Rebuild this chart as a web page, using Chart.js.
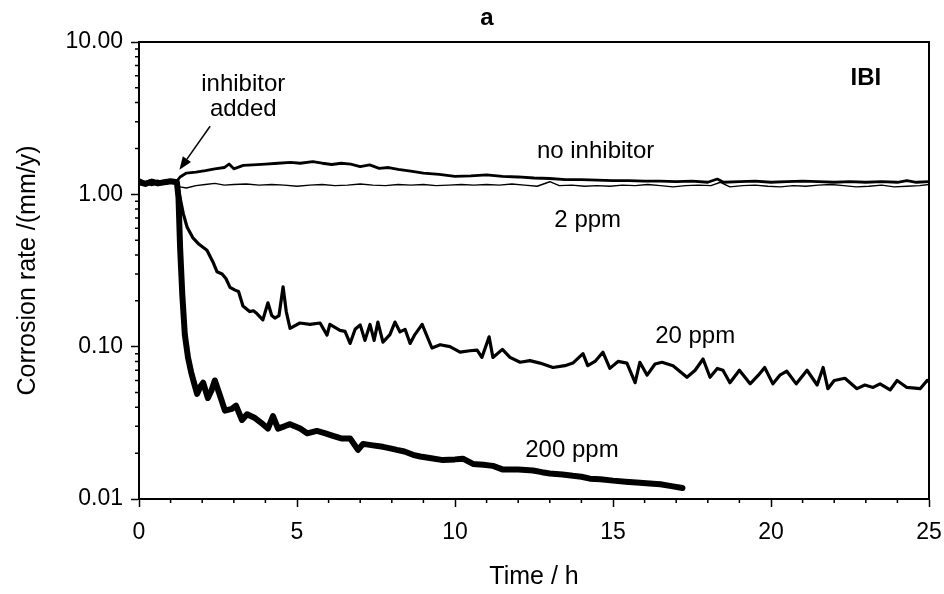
<!DOCTYPE html>
<html>
<head>
<meta charset="utf-8">
<script src="https://cdn.jsdelivr.net/npm/chart.js@4.4.1/dist/chart.umd.min.js"></script>
<style>
html,body{margin:0;padding:0;background:#fff;}
canvas{display:block;}
</style>
</head>
<body>
<canvas id="c" width="944" height="594"></canvas>
<script>
// ---------------- data ----------------
const xMajorTicks = [0, 5, 10, 15, 20, 25];
const yMajorTicks = [0.01, 0.1, 1, 10];

const noInhTime = [0,0.2,0.4,0.6,0.8,1.0,1.2,1.3,1.5,1.8,2.1,2.4,2.7,2.85,3.0,3.3,3.6,4.0,4.4,4.8,5.1,5.5,5.8,6.1,6.4,6.7,7.0,7.3,7.6,7.9,8.2,8.6,9.0,9.5,10,10.5,11,11.5,12,12.5,13,13.5,14,14.5,15,15.5,16,16.5,17,17.5,18,18.3,18.5,19,19.5,20,20.5,21,21.5,22,22.5,23,23.5,24,24.3,24.6,25];
const noInhRate = [1.22,1.2,1.24,1.2,1.22,1.21,1.22,1.3,1.38,1.4,1.43,1.47,1.5,1.58,1.47,1.55,1.56,1.58,1.6,1.62,1.6,1.64,1.6,1.57,1.6,1.58,1.52,1.56,1.48,1.5,1.46,1.42,1.38,1.35,1.31,1.32,1.34,1.31,1.3,1.28,1.27,1.25,1.25,1.24,1.23,1.23,1.22,1.22,1.21,1.22,1.2,1.26,1.2,1.21,1.22,1.2,1.21,1.22,1.21,1.2,1.21,1.2,1.21,1.2,1.23,1.2,1.21];

const ppm2Time = [0,0.2,0.4,0.6,0.8,1.0,1.2,1.3,1.5,1.8,2.1,2.4,2.7,3.0,3.4,3.8,4.2,4.6,5.0,5.4,5.8,6.2,6.6,7.0,7.4,7.8,8.2,8.6,9.0,9.4,9.8,10.2,10.6,11,11.4,11.8,12.2,12.6,13.0,13.3,13.7,14.1,14.5,14.9,15.3,15.7,16.1,16.5,16.9,17.3,17.7,18.1,18.4,18.7,19.1,19.5,19.9,20.3,20.7,21.1,21.5,21.9,22.3,22.7,23.1,23.5,23.9,24.3,24.7,25];
const ppm2Rate = [1.15,1.18,1.14,1.17,1.19,1.18,1.2,1.12,1.1,1.14,1.16,1.18,1.15,1.16,1.17,1.15,1.16,1.15,1.13,1.15,1.16,1.14,1.15,1.17,1.15,1.14,1.16,1.15,1.16,1.14,1.15,1.16,1.15,1.16,1.15,1.17,1.15,1.13,1.21,1.14,1.15,1.13,1.14,1.13,1.15,1.14,1.16,1.14,1.12,1.14,1.15,1.14,1.2,1.12,1.14,1.15,1.13,1.12,1.14,1.13,1.15,1.16,1.14,1.12,1.13,1.15,1.12,1.13,1.14,1.16];

const ppm20Time = [0,0.2,0.4,0.6,0.8,1.0,1.2,1.3,1.4,1.52,1.7,1.9,2.15,2.34,2.47,2.63,2.75,2.88,3.04,3.15,3.29,3.5,3.62,3.73,3.92,4.08,4.2,4.3,4.43,4.56,4.66,4.78,5.09,5.41,5.73,5.95,6.04,6.36,6.52,6.68,6.84,7.0,7.15,7.31,7.44,7.56,7.72,7.94,8.1,8.26,8.42,8.58,8.73,8.96,9.27,9.53,9.84,10.16,10.47,10.7,10.85,11.08,11.2,11.5,11.74,12.06,12.37,12.69,13.1,13.48,13.73,14.05,14.2,14.43,14.68,14.9,15.16,15.44,15.7,15.85,16.08,16.33,16.55,16.9,17.34,17.6,17.85,18.07,18.3,18.48,18.7,19.0,19.34,19.6,19.8,20.06,20.28,20.5,20.8,21.14,21.46,21.65,21.8,22.0,22.34,22.72,22.97,23.23,23.45,23.77,23.99,24.3,24.72,24.94,25];
const ppm20Rate = [1.25,1.19,1.2,1.22,1.18,1.2,1.21,0.95,0.75,0.61,0.52,0.47,0.43,0.36,0.31,0.3,0.28,0.245,0.235,0.23,0.185,0.17,0.172,0.165,0.15,0.194,0.16,0.154,0.16,0.247,0.17,0.132,0.143,0.14,0.143,0.119,0.14,0.128,0.126,0.105,0.13,0.139,0.11,0.14,0.11,0.145,0.107,0.12,0.145,0.125,0.13,0.105,0.12,0.14,0.098,0.103,0.1,0.092,0.094,0.095,0.085,0.116,0.085,0.096,0.085,0.079,0.081,0.078,0.073,0.075,0.078,0.09,0.075,0.08,0.092,0.072,0.08,0.078,0.058,0.079,0.065,0.077,0.079,0.075,0.063,0.07,0.083,0.063,0.072,0.07,0.058,0.07,0.057,0.065,0.073,0.057,0.065,0.069,0.057,0.07,0.056,0.073,0.053,0.06,0.062,0.053,0.056,0.054,0.057,0.052,0.06,0.054,0.053,0.06,0.059];

const ppm200Time = [0,0.2,0.4,0.6,0.8,1.0,1.2,1.25,1.3,1.37,1.45,1.55,1.65,1.75,1.84,1.95,2.03,2.18,2.3,2.4,2.56,2.72,2.94,3.07,3.26,3.42,3.67,3.92,4.08,4.24,4.4,4.6,4.78,5.1,5.32,5.63,5.9,6.14,6.4,6.68,6.93,7.09,7.4,7.72,7.95,8.16,8.4,8.67,8.9,9.2,9.62,10.0,10.25,10.57,10.9,11.2,11.52,12.0,12.47,12.75,13.0,13.4,13.73,14.0,14.27,14.6,15.0,15.4,15.85,16.27,16.5,16.8,17.2];
const ppm200Rate = [1.2,1.17,1.21,1.18,1.2,1.22,1.2,0.95,0.45,0.22,0.12,0.085,0.068,0.057,0.049,0.055,0.058,0.046,0.052,0.06,0.048,0.038,0.039,0.041,0.033,0.036,0.034,0.031,0.029,0.035,0.029,0.03,0.031,0.029,0.027,0.028,0.027,0.026,0.025,0.025,0.021,0.023,0.0225,0.022,0.0215,0.021,0.0205,0.0195,0.019,0.0186,0.018,0.0182,0.0184,0.017,0.0168,0.0165,0.0156,0.0156,0.0154,0.015,0.0147,0.0145,0.0142,0.014,0.0136,0.0135,0.0132,0.013,0.0128,0.0126,0.0125,0.0122,0.0118];

// ---------------- chart ----------------
const FONT = "'Liberation Sans', Arial, Helvetica, sans-serif";
const pts = (t, r) => t.map((x, i) => ({x: x, y: r[i]}));
const isMajorX = v => xMajorTicks.some(m => Math.abs(m - v) < 1e-9);
const isMajorY = v => yMajorTicks.some(m => Math.abs(m - v) / m < 1e-6);

const xTickValues = [];
for (let h = 0; h <= 25; h++) xTickValues.push(h);
const yTickValues = [];
[0.01, 0.1, 1].forEach(d => { for (let k = 1; k <= 9; k++) yTickValues.push(+(d * k).toPrecision(3)); });
yTickValues.push(10);

function ds(label, t, r, w) {
  return {label, data: pts(t, r), borderColor: '#000', backgroundColor: '#000', borderWidth: w,
          pointRadius: 0, tension: 0, fill: false, borderJoinStyle: 'round', borderCapStyle: 'round'};
}

const annotations = [
  {text: 'inhibitor', x: 3.3, y: 5.3, font: "24px " + FONT},
  {text: 'added', x: 3.3, y: 3.6, font: "24px " + FONT},
  {text: 'no inhibitor', x: 14.45, y: 1.9, font: "24px " + FONT},
  {text: '2 ppm', x: 14.2, y: 0.67, font: "24px " + FONT},
  {text: '20 ppm', x: 17.6, y: 0.117, font: "24px " + FONT},
  {text: '200 ppm', x: 13.7, y: 0.0207, font: "24px " + FONT},
  {text: 'IBI', x: 23.0, y: 5.8, font: "bold 24px " + FONT}
];
const arrowTail = {x: 2.25, y: 2.8};
const arrowTip = {x: 1.28, y: 1.45};

const decor = {
  id: 'decor',
  afterDraw(chart) {
    const {ctx, chartArea: a, scales: {x, y}} = chart;
    ctx.save();
    ctx.strokeStyle = '#000';
    ctx.lineWidth = 2;
    ctx.beginPath();
    ctx.moveTo(a.left, a.top); ctx.lineTo(a.right, a.top); ctx.lineTo(a.right, a.bottom);
    ctx.stroke();
    ctx.lineWidth = 1.5;
    ctx.beginPath();
    x.ticks.forEach(t => { if (!isMajorX(t.value)) { const px = x.getPixelForValue(t.value); ctx.moveTo(px, a.bottom); ctx.lineTo(px, a.bottom + 4); } });
    y.ticks.forEach(t => { if (!isMajorY(t.value)) { const py = y.getPixelForValue(t.value); ctx.moveTo(a.left, py); ctx.lineTo(a.left - 4, py); } });
    ctx.stroke();
    ctx.fillStyle = '#000';
    ctx.textAlign = 'center';
    ctx.textBaseline = 'middle';
    ctx.font = "bold 24px " + FONT;
    ctx.fillText('a', (a.left + a.right) / 2 - 47, a.top - 24);
    annotations.forEach(n => {
      ctx.font = n.font;
      ctx.fillText(n.text, x.getPixelForValue(n.x), y.getPixelForValue(n.y));
    });
    const x1 = x.getPixelForValue(arrowTail.x), y1 = y.getPixelForValue(arrowTail.y);
    const x2 = x.getPixelForValue(arrowTip.x), y2 = y.getPixelForValue(arrowTip.y);
    const ang = Math.atan2(y2 - y1, x2 - x1);
    const hl = 13, hw = 5;
    ctx.lineWidth = 1.5;
    ctx.beginPath();
    ctx.moveTo(x1, y1);
    ctx.lineTo(x2 - hl * Math.cos(ang), y2 - hl * Math.sin(ang));
    ctx.stroke();
    ctx.beginPath();
    ctx.moveTo(x2, y2);
    ctx.lineTo(x2 - hl * Math.cos(ang) + hw * Math.sin(ang), y2 - hl * Math.sin(ang) - hw * Math.cos(ang));
    ctx.lineTo(x2 - hl * Math.cos(ang) - hw * Math.sin(ang), y2 - hl * Math.sin(ang) + hw * Math.cos(ang));
    ctx.closePath();
    ctx.fill();
    ctx.restore();
  }
};

new Chart(document.getElementById('c'), {
  type: 'line',
  data: {
    datasets: [
      ds('no inhibitor', noInhTime, noInhRate, 2.8),
      ds('2 ppm', ppm2Time, ppm2Rate, 1.4),
      ds('20 ppm', ppm20Time, ppm20Rate, 3.2),
      ds('200 ppm', ppm200Time, ppm200Rate, 6)
    ]
  },
  options: {
    responsive: false,
    animation: false,
    layout: {padding: {top: 42, right: 15, left: 0, bottom: 0}},
    plugins: {legend: {display: false}, tooltip: {enabled: false}},
    scales: {
      x: {
        type: 'linear', min: 0, max: 25,
        afterFit(s) { s.height = 95; s.paddingLeft = 0; s.paddingRight = 0; },
        afterBuildTicks(s) { s.ticks = xTickValues.map(v => ({value: v})); },
        ticks: {autoSkip: false, maxRotation: 0, padding: 12, color: '#000',
                font: {family: FONT, size: 23},
                callback: v => isMajorX(v) ? String(v) : ''},
        grid: {drawOnChartArea: false, drawTicks: true, tickLength: 8, tickWidth: 1.5,
               tickColor: c => (c.tick && isMajorX(c.tick.value)) ? '#000' : 'rgba(0,0,0,0)'},
        border: {display: true, color: '#000', width: 2},
        title: {display: true, text: 'Time / h', color: '#000', font: {family: FONT, size: 25}, padding: 2}
      },
      y: {
        type: 'logarithmic', min: 0.01, max: 10,
        afterFit(s) { s.width = 139; s.paddingTop = 0; s.paddingBottom = 0; },
        afterBuildTicks(s) { s.ticks = yTickValues.map(v => ({value: v})); },
        ticks: {autoSkip: false, padding: 8, color: '#000',
                font: {family: FONT, size: 23},
                callback: v => isMajorY(v) ? Number(v).toFixed(2) : ''},
        grid: {drawOnChartArea: false, drawTicks: true, tickLength: 8, tickWidth: 1.5,
               tickColor: c => (c.tick && isMajorY(c.tick.value)) ? '#000' : 'rgba(0,0,0,0)'},
        border: {display: true, color: '#000', width: 2},
        title: {display: true, text: 'Corrosion rate /(mm/y)', color: '#000', font: {family: FONT, size: 25}, padding: 13}
      }
    }
  },
  plugins: [decor]
});
</script>
</body>
</html>
